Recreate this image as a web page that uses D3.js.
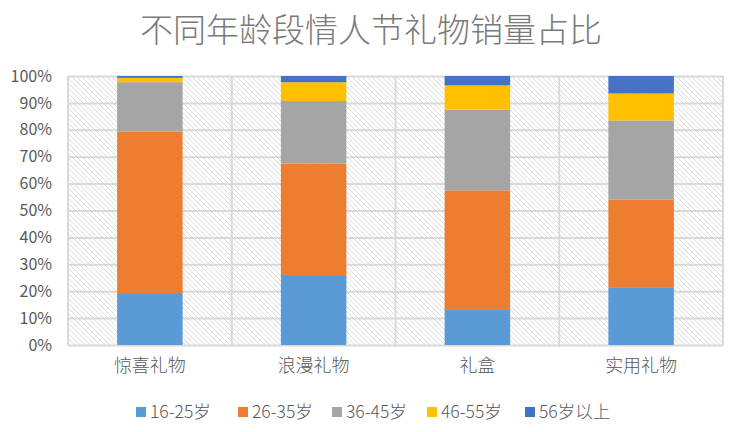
<!DOCTYPE html>
<html><head><meta charset="utf-8">
<script src="https://cdn.jsdelivr.net/npm/d3@7"></script>
<style>
html,body{margin:0;padding:0;background:#fff;}
svg{display:block;}
text{font-family:"Noto Sans CJK SC","Noto Sans",sans-serif;}
</style></head>
<body>
<svg id="chart" width="740" height="432"></svg>
<script>
const categories = ["惊喜礼物", "浪漫礼物", "礼盒", "实用礼物"];
const seriesNames = ["16-25岁", "26-35岁", "36-45岁", "46-55岁", "56岁以上"];
const s1625 = [19.3, 26.0, 13.0, 21.5];
const s2635 = [60.0, 41.4, 44.5, 32.5];
const s3645 = [18.4, 23.3, 30.0, 29.5];
const s4655 = [1.6, 7.0, 9.0, 10.0];
const s56 = [0.7, 2.3, 3.5, 6.5];
const colors = ["#5B9BD5", "#ED7D31", "#A5A5A5", "#FFC000", "#4472C4"];
const yTicks = [0, 10, 20, 30, 40, 50, 60, 70, 80, 90, 100];
const title = "不同年龄段情人节礼物销量占比";

const allSeries = [s1625, s2635, s3645, s4655, s56];
const rows = categories.map((c, i) => {
  const r = {cat: c};
  seriesNames.forEach((s, j) => r[s] = allSeries[j][i]);
  return r;
});
const stacked = d3.stack().keys(seriesNames)(rows);

const svg = d3.select("#chart");
const m = {left: 68, right: 723, top: 76, bottom: 345};

const defs = svg.append("defs");
const pat = defs.append("pattern").attr("id", "hatch")
  .attr("patternUnits", "userSpaceOnUse").attr("width", 5).attr("height", 5);
pat.append("rect").attr("width", 5).attr("height", 5).attr("fill", "#fff");
pat.append("path").attr("d", "M0,0 L5,5 M-1,4 L1,6 M4,-1 L6,1")
  .attr("stroke", "#dcdcdc").attr("stroke-width", 1);

const x = d3.scaleBand().domain(categories).range([m.left, m.right]).paddingInner(0).paddingOuter(0);
const y = d3.scaleLinear().domain([0, 100]).range([m.bottom, m.top]);
const bw = x.bandwidth() / 2.5;

// title
svg.append("text").attr("x", 371).attr("y", 42).attr("text-anchor", "middle")
  .attr("font-size", 33).attr("font-weight", 300).attr("fill", "#7a7a7a").text(title);

// background
svg.append("rect").attr("x", m.left).attr("y", m.top)
  .attr("width", m.right - m.left).attr("height", m.bottom - m.top).attr("fill", "url(#hatch)");

// horizontal gridlines
svg.append("g").attr("class", "grid")
  .attr("transform", `translate(${m.left},0)`)
  .call(d3.axisLeft(y).tickValues(yTicks).tickSize(-(m.right - m.left)).tickFormat(""))
  .call(g => g.select(".domain").remove())
  .call(g => g.selectAll("line").attr("stroke", "#d9d9d9").attr("stroke-width", 2));

// vertical gridlines at category boundaries
const bounds = categories.map(c => x(c)).concat([m.right]);
svg.append("g").selectAll("line").data(bounds).join("line")
  .attr("x1", d => d).attr("x2", d => d).attr("y1", m.top).attr("y2", m.bottom)
  .attr("stroke", "#d9d9d9").attr("stroke-width", 2);

// bars
svg.append("g").selectAll("g").data(stacked).join("g")
  .attr("fill", (d, i) => colors[i])
  .selectAll("rect").data(d => d).join("rect")
  .attr("x", d => x(d.data.cat) + (x.bandwidth() - bw) / 2)
  .attr("width", bw)
  .attr("y", d => y(d[1]))
  .attr("height", d => y(d[0]) - y(d[1]));

// y axis labels
svg.append("g").attr("transform", `translate(${m.left},0)`)
  .call(d3.axisLeft(y).tickValues(yTicks).tickSize(0).tickPadding(16).tickFormat(d => d + "%"))
  .call(g => g.select(".domain").remove())
  .call(g => g.selectAll("text").attr("font-size", 16).attr("fill", "#595959")
    .attr("font-family", "'Noto Sans','Noto Sans CJK SC',sans-serif"));

// x axis labels
svg.append("g").attr("transform", `translate(0,${m.bottom})`)
  .call(d3.axisBottom(x).tickSize(0).tickPadding(14))
  .call(g => g.select(".domain").remove())
  .call(g => g.selectAll("text").attr("font-size", 18).attr("fill", "#595959")
    .attr("font-family", "'Noto Sans CJK SC',sans-serif").attr("font-weight", 300));

// legend
const legendX = [136, 238, 332, 427, 525];
const lg = svg.append("g").selectAll("g").data(seriesNames).join("g")
  .attr("transform", (d, i) => `translate(${legendX[i]},412)`);
lg.append("rect").attr("x", 0).attr("y", -5).attr("width", 10).attr("height", 10)
  .attr("fill", (d, i) => colors[i]);
lg.append("text").attr("x", 14).attr("y", 0).attr("dy", "0.36em")
  .attr("font-size", 17.5).attr("fill", "#595959").attr("font-weight", 300).text(d => d);
</script>
</body></html>
